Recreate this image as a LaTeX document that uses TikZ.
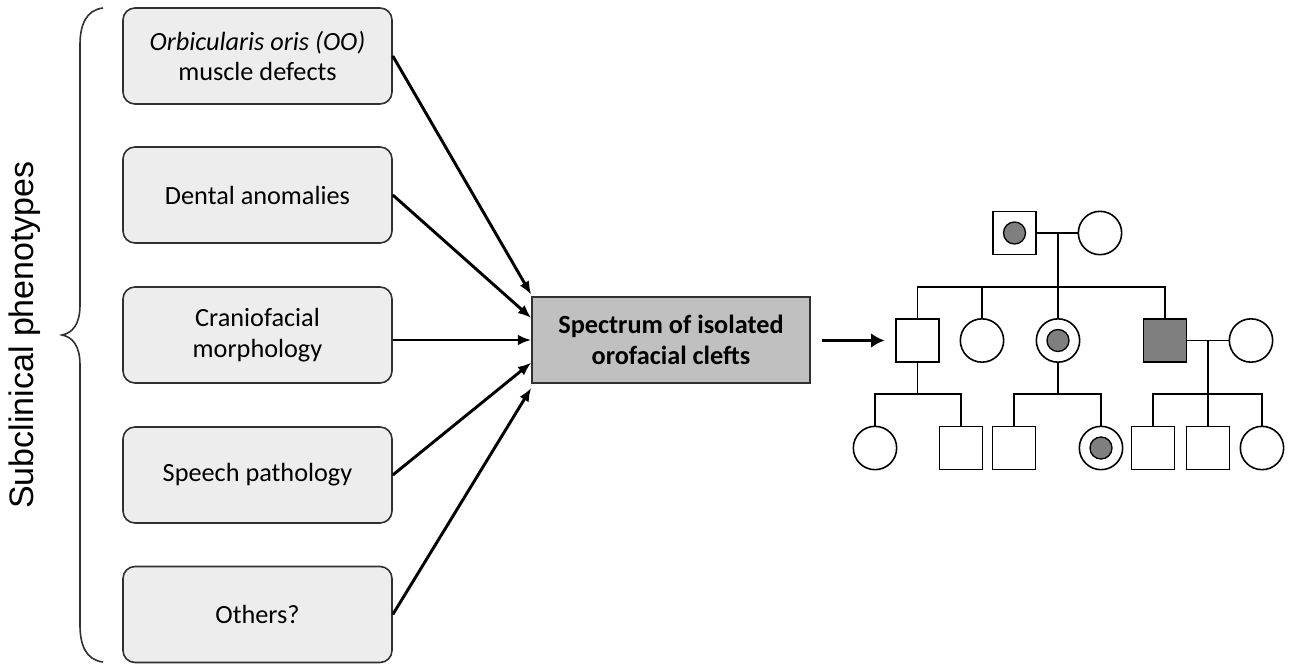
\documentclass[tikz,border=0pt]{standalone}
\usepackage{fontspec}
\setmainfont{Carlito}
\newfontfamily\arialfont{Liberation Sans}
\usetikzlibrary{arrows.meta}
\definecolor{boxGray}{HTML}{EDEDED}
\definecolor{specGray}{HTML}{C0C0C0}
\definecolor{markGray}{HTML}{7F7F7F}
\definecolor{edgeGray}{HTML}{303030}
\tikzstyle{phenoBox}=[shape = rectangle, rounded corners = 9pt, minimum width = 201.75pt, minimum height = 72pt, draw = edgeGray, line width = 1.2pt, fill = boxGray, align = center, font = \fontsize{19.7}{23}\selectfont]
\tikzstyle{specBox}=[shape = rectangle, minimum width = 208.5pt, minimum height = 64.5pt, draw = edgeGray, line width = 1.2pt, fill = specGray, align = center, font = \fontsize{19.7}{23}\selectfont\bfseries]
\tikzstyle{male}=[shape = rectangle, minimum size = 32.25pt, inner sep = 0pt, draw, line width = 1.2pt, fill = white]
\tikzstyle{female}=[shape = circle, minimum size = 32.5pt, inner sep = 0pt, draw, line width = 1.2pt, fill = white]
\tikzstyle{affected}=[fill = markGray]
\tikzstyle{carrier}=[path picture = {\fill[markGray, draw = black, line width = 1pt] (path picture bounding box.center) circle (8.25pt);}]

\begin{document}
\begin{tikzpicture}[x = 0.75pt, y = -0.75pt]
\tikzstyle{arrowLine}=[line width = 2.2pt, -{Latex[length = 10pt, width = 8pt]}]
\tikzstyle{pedLine}=[line width = 1.2pt]
\useasboundingbox (0,0) rectangle (1293,667);
% left side
\node[font = \arialfont\fontsize{25.5}{30}\selectfont, rotate = 90] (title) at (25,335) {Subclinical phenotypes};
\draw[line width = 1.2pt, edgeGray] (103,8) .. controls (86,10) and (80,25) .. (80,45) -- (80,305) .. controls (80,325) and (72,333) .. (62,335) .. controls (72,337) and (80,345) .. (80,365) -- (80,625) .. controls (80,645) and (86,660) .. (103,662);
\node[phenoBox] (b0) at (257.5,56) {\textit{Orbicularis oris (OO)}\\muscle defects};
\node[phenoBox] (b1) at (257.5,195) {Dental anomalies};
\node[phenoBox] (b2) at (257.5,335) {Craniofacial\\morphology};
\node[phenoBox] (b3) at (257.5,475) {Speech pathology};
\node[phenoBox] (b4) at (257.5,614.5) {Others?};
\node[specBox] (spec) at (671,340) {Spectrum of isolated\\orofacial clefts};
\draw[arrowLine] (b0.east) -- ([yshift = 34pt]spec.west);
\draw[arrowLine] (b1.east) -- ([yshift = 16.5pt]spec.west);
\draw[arrowLine] (b2.east |- spec.west) -- (spec.west);
\draw[arrowLine] (b3.east) -- ([yshift = -17pt]spec.west);
\draw[arrowLine] (b4.east) -- ([yshift = -36pt]spec.west);
% pedigree
\node[male, carrier] (v0) at (1014.5,233) {};
\node[female] (v1) at (1100,233) {};
\node[male] (v2) at (917.5,340.5) {};
\node[female] (v3) at (982,340.5) {};
\node[female, carrier] (v4) at (1058,340.5) {};
\node[male, affected] (v5) at (1165,340.5) {};
\node[female] (v6) at (1251,340.5) {};
\node[female] (v7) at (875,448) {};
\node[male] (v8) at (961,448) {};
\node[male] (v9) at (1014,448) {};
\node[female, carrier] (v10) at (1101,448) {};
\node[male] (v11) at (1153,448) {};
\node[male] (v12) at (1208,448) {};
\node[female] (v13) at (1262,448) {};
\coordinate (m0) at (1058,233);
\coordinate (s0) at (1058,287);
\coordinate (m1) at (1208,340.5);
\coordinate (s1) at (1208,394);
\coordinate (s2) at (917.5,394);
\coordinate (s3) at (1058,394);
\draw[pedLine] (v0) -- (v1);
\draw[pedLine] (m0) -- (v4);
\draw[pedLine] (v2) |- (s0) -| (v5);
\draw[pedLine] (v3) -- (v3 |- s0);
\draw[pedLine] (v5) -- (v6);
\draw[pedLine] (m1) -- (v12);
\draw[pedLine] (v11) |- (s1) -| (v13);
\draw[pedLine] (v2) -- (s2);
\draw[pedLine] (v7) |- (s2) -| (v8);
\draw[pedLine] (v4) -- (s3);
\draw[pedLine] (v9) |- (s3) -| (v10);
\coordinate (pArrow) at (822,340.5);
\draw[line width = 2.8pt, -{Latex[length = 10pt, width = 11pt]}, shorten > = 8pt] (pArrow) -- (v2);
\end{tikzpicture}
\end{document}
